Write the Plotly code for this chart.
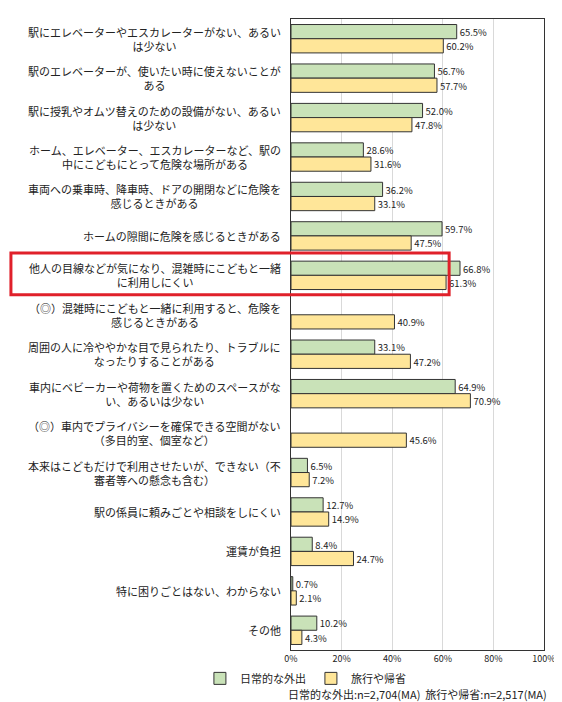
import plotly.graph_objects as go

categories = [
    "駅にエレベーターやエスカレーターがない、あるい<br>は少ない",
    "駅のエレベーターが、使いたい時に使えないことが<br>ある",
    "駅に授乳やオムツ替えのための設備がない、あるい<br>は少ない",
    "ホーム、エレベーター、エスカレーターなど、駅の<br>中にこどもにとって危険な場所がある",
    "車両への乗車時、降車時、ドアの開閉などに危険を<br>感じるときがある",
    "ホームの隙間に危険を感じるときがある",
    "他人の目線などが気になり、混雑時にこどもと一緒<br>に利用しにくい",
    "（◎）混雑時にこどもと一緒に利用すると、危険を<br>感じるときがある",
    "周囲の人に冷ややかな目で見られたり、トラブルに<br>なったりすることがある",
    "車内にベビーカーや荷物を置くためのスペースがな<br>い、あるいは少ない",
    "（◎）車内でプライバシーを確保できる空間がない<br>（多目的室、個室など）",
    "本来はこどもだけで利用させたいが、できない（不<br>審者等への懸念も含む）",
    "駅の係員に頼みごとや相談をしにくい",
    "運賃が負担",
    "特に困りごとはない、わからない",
    "その他",
]
daily = [65.5, 56.7, 52.0, 28.6, 36.2, 59.7, 66.8, None, 33.1, 64.9, None, 6.5, 12.7, 8.4, 0.7, 10.2]
travel = [60.2, 57.7, 47.8, 31.6, 33.1, 47.5, 61.3, 40.9, 47.2, 70.9, 45.6, 7.2, 14.9, 24.7, 2.1, 4.3]
ticks = [0, 20, 40, 60, 80, 100]
tick_labels = ["0%", "20%", "40%", "60%", "80%", "100%"]
series_names = ["日常的な外出", "旅行や帰省"]
note = "日常的な外出:n=2,704(MA)  旅行や帰省:n=2,517(MA)"

F = "Noto Sans CJK JP"
idx = list(range(len(categories)))
fig = go.Figure()
for name, vals, col in [(series_names[0], daily, "#C9E2B8"), (series_names[1], travel, "#FFE699")]:
    fig.add_trace(go.Bar(
        y=idx, x=vals, name=name, orientation="h",
        marker=dict(color=col, line=dict(color="#333333", width=1)),
        text=[("" if v is None else f"{v:.1f}%") for v in vals],
        textposition="outside", cliponaxis=False,
        textfont=dict(family=F, size=10, color="#222"),
    ))

for i, c in enumerate(categories):
    fig.add_annotation(x=-0.03, xref="paper", y=i, yref="y", text=c, showarrow=False,
                       xanchor="right", align="center", font=dict(family=F, size=11, color="#222"))

fig.add_shape(type="rect", xref="paper", yref="paper", x0=-1.107, x1=0.625, y0=0.563, y1=0.629,
              line=dict(color="#E0202A", width=3))
fig.add_annotation(x=1.02, xref="paper", y=-0.07, yref="paper", text=note, showarrow=False,
                   xanchor="right", yanchor="middle", font=dict(family=F, size=11, color="#222"))

fig.update_layout(
    width=562, height=702, margin=dict(l=283, r=26, t=11, b=60),
    plot_bgcolor="white", paper_bgcolor="white",
    barmode="group", bargap=0.28, bargroupgap=0.0,
    showlegend=True,
    legend=dict(orientation="h", x=-0.36, y=-0.022, xanchor="left", yanchor="top",
                font=dict(family=F, size=11, color="#222"), itemwidth=30,
                tracegroupgap=0, traceorder="normal", bgcolor="rgba(0,0,0,0)"),
    xaxis=dict(range=[0, 100], tickvals=ticks, ticktext=tick_labels, showgrid=True,
               gridcolor="#D9D9D9", showline=True, linecolor="#333", mirror=True,
               tickfont=dict(family=F, size=9, color="#222"), zeroline=False),
    yaxis=dict(tickvals=idx, showticklabels=False, autorange="reversed",
               range=[len(idx) - 0.5, -0.5], showline=True, linecolor="#333", mirror=True,
               showgrid=False, zeroline=False),
)
fig.write_html("out.html")
